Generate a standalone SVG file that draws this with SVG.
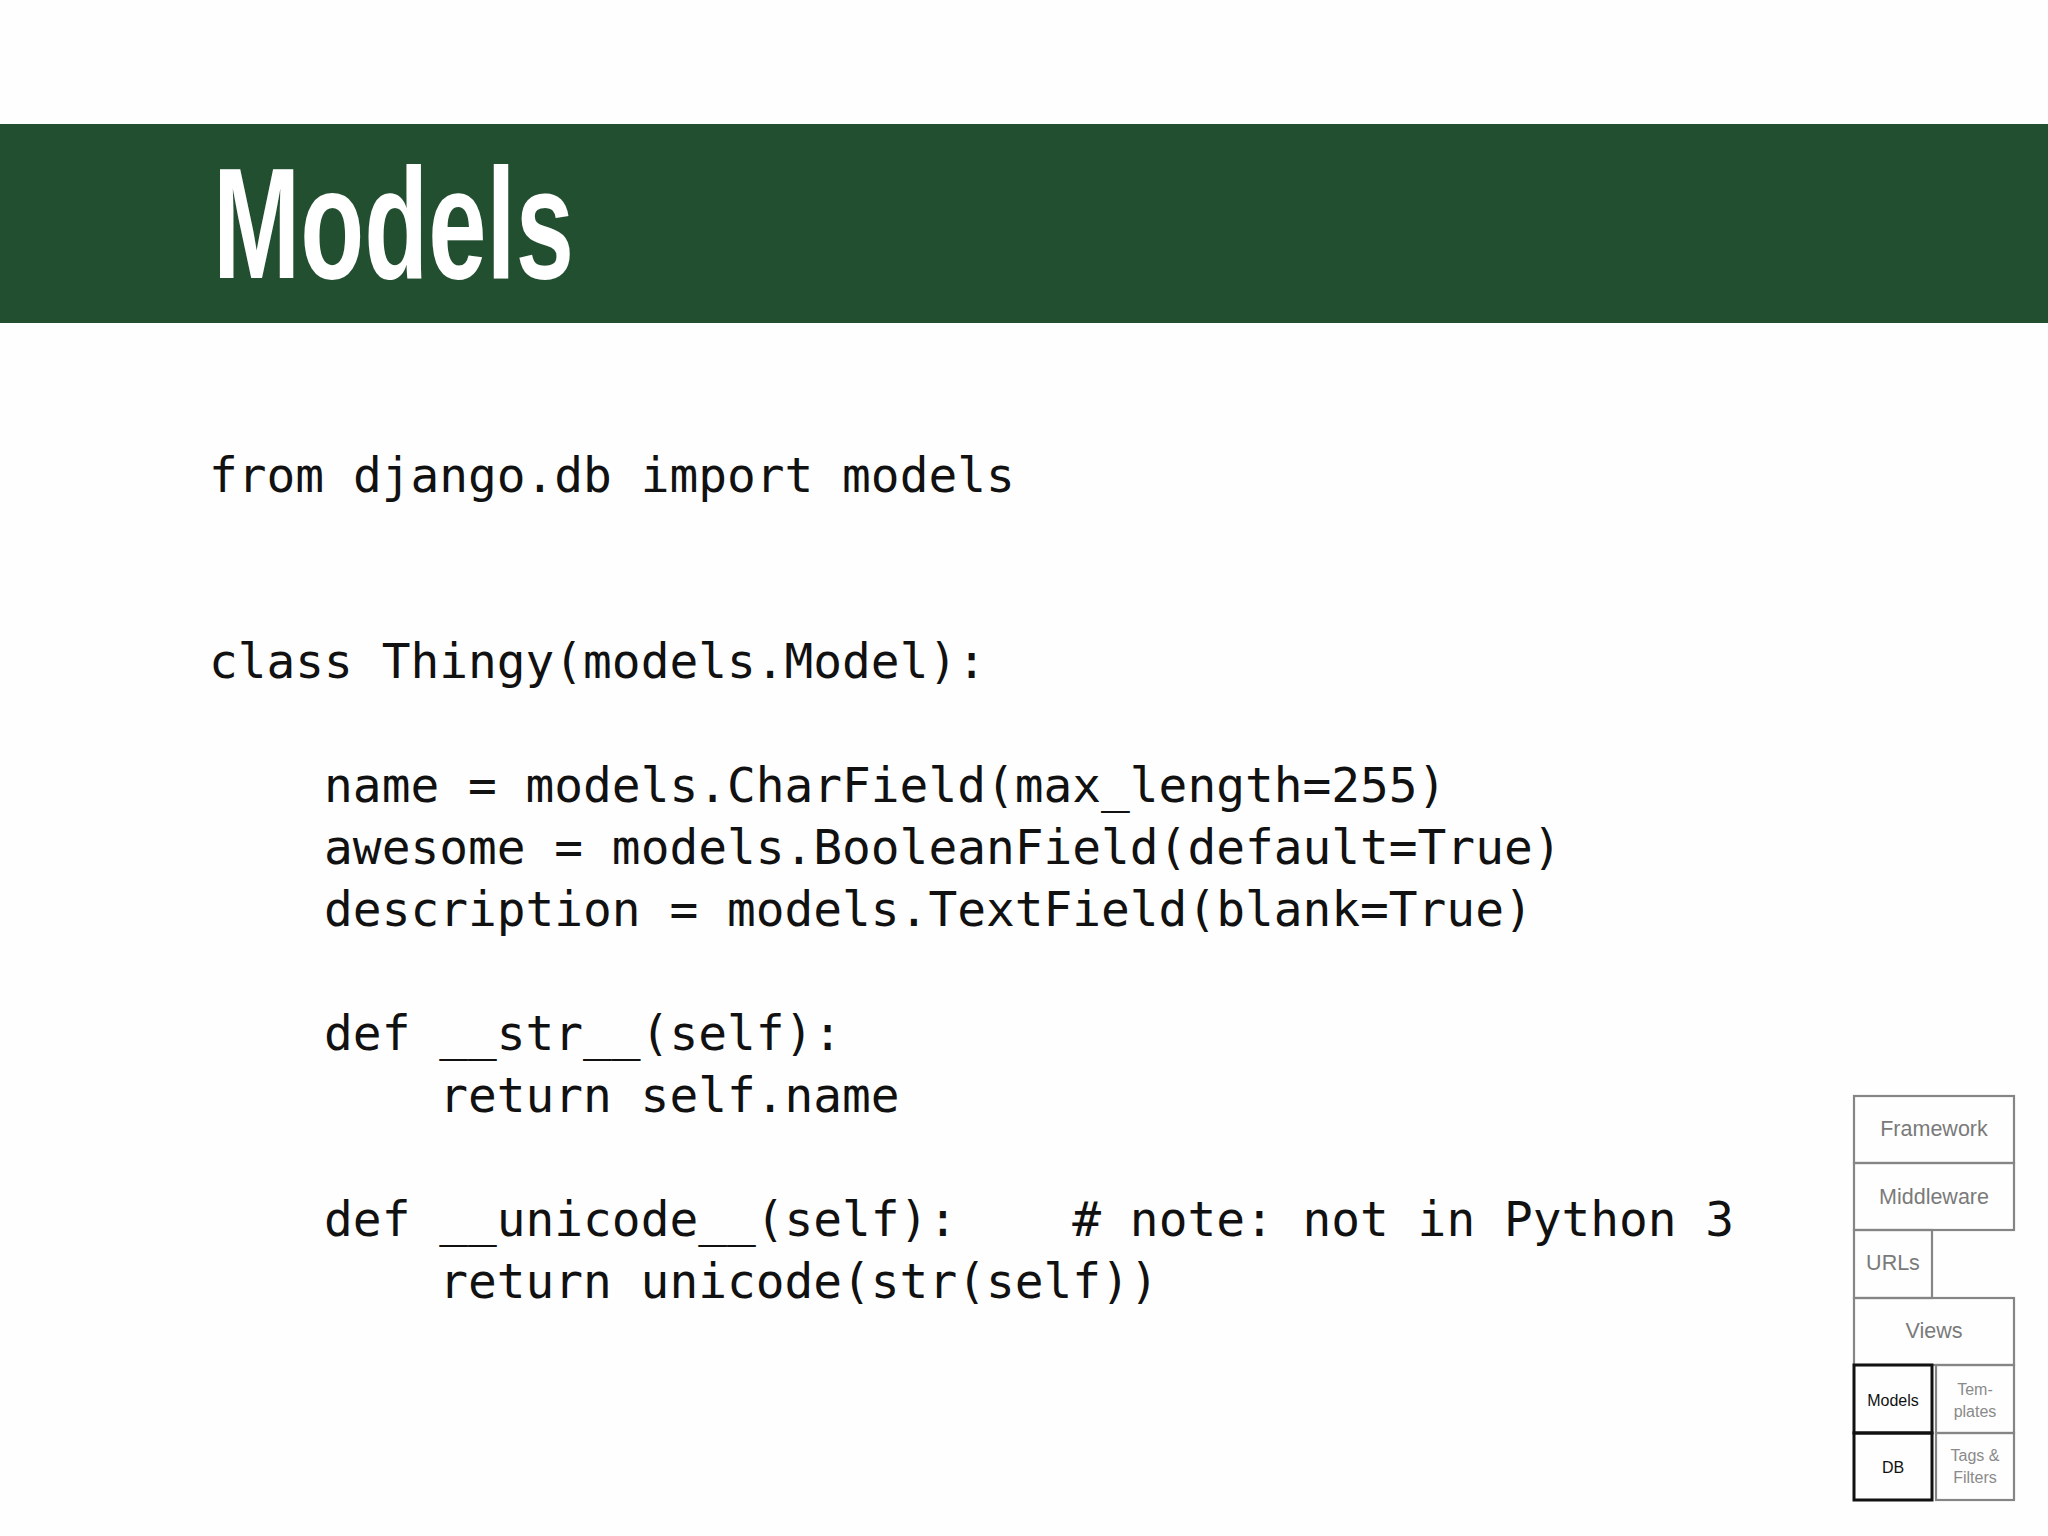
<svg xmlns="http://www.w3.org/2000/svg" width="2048" height="1536" viewBox="0 0 2048 1536">
<style>
.code{font-family:"DejaVu Sans Mono","Liberation Mono",monospace;font-size:47.8px;fill:#111;white-space:pre}
.nav{fill:none;stroke:#858585;stroke-width:2.2}
.navk{fill:none;stroke:#111;stroke-width:3}
.nt{font-family:"Liberation Sans","Noto Sans",sans-serif;font-size:21.5px;fill:#7a7a7a;text-anchor:middle}
.ns{font-family:"Liberation Sans","Noto Sans",sans-serif;font-size:16px;fill:#8a8a8a;text-anchor:middle}
.nk{font-family:"Liberation Sans","Noto Sans",sans-serif;font-size:16px;fill:#111;text-anchor:middle}
</style>
<rect x="0" y="0" width="2048" height="1536" fill="#fefefe"/>
<g id="header">
<rect x="0" y="124" width="2048" height="199" fill="#234f31"/>
<text x="213" y="278" font-family="Liberation Sans, Arial, sans-serif" font-weight="bold" font-size="157" fill="#ffffff" textLength="361" lengthAdjust="spacingAndGlyphs">Models</text>
</g>
<g id="code">
<text class="code" x="209" y="492">from django.db import models</text>
<text class="code" x="209" y="678">class Thingy(models.Model):</text>
<text class="code" x="324.1" y="801.5">name = models.CharField(max_length=255)</text>
<text class="code" x="324.1" y="863.6">awesome = models.BooleanField(default=True)</text>
<text class="code" x="324.1" y="925.7">description = models.TextField(blank=True)</text>
<text class="code" x="324.1" y="1049.9">def __str__(self):</text>
<text class="code" x="439.2" y="1112">return self.name</text>
<text class="code" x="324.1" y="1236.2">def __unicode__(self):</text>
<text class="code" x="1072.3" y="1236.2"># note: not in Python 3</text>
<text class="code" x="439.2" y="1298.3">return unicode(str(self))</text>
</g>
<g id="nav-framework"><rect class="nav" x="1854" y="1096" width="160" height="67"/><text class="nt" x="1934" y="1136">Framework</text></g>
<g id="nav-middleware"><rect class="nav" x="1854" y="1163" width="160" height="67"/><text class="nt" x="1934" y="1204">Middleware</text></g>
<g id="nav-urls"><rect class="nav" x="1854" y="1230" width="78" height="68"/><text class="nt" x="1893" y="1270">URLs</text></g>
<g id="nav-views"><rect class="nav" x="1854" y="1298" width="160" height="67"/><text class="nt" x="1934" y="1338">Views</text></g>
<g id="nav-templates"><rect class="nav" x="1936" y="1365" width="78" height="68"/><text class="ns" x="1975" y="1395">Tem-</text><text class="ns" x="1975" y="1417">plates</text></g>
<g id="nav-tags"><rect class="nav" x="1936" y="1433" width="78" height="67"/><text class="ns" x="1975" y="1461">Tags &amp;</text><text class="ns" x="1975" y="1483">Filters</text></g>
<g id="nav-models"><rect class="navk" x="1854" y="1365" width="78" height="68"/><text class="nk" x="1893" y="1406">Models</text></g>
<g id="nav-db"><rect class="navk" x="1854" y="1433" width="78" height="67"/><text class="nk" x="1893" y="1473">DB</text></g>
</svg>
